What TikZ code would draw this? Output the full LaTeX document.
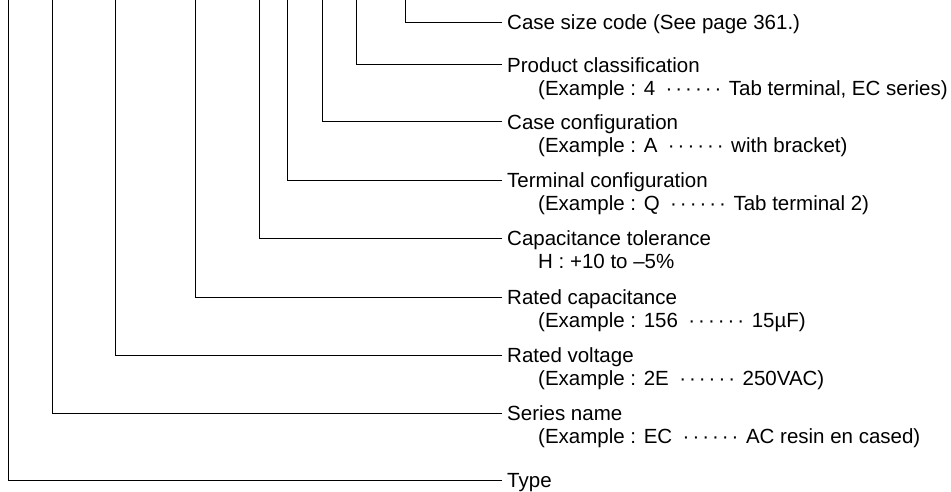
\documentclass[tikz,border=0pt]{standalone}
\usepackage{fontspec}
\setmainfont{Liberation Sans}
\newcommand\dt{\makebox[9.8pt]{·}}
\newcommand\exdots{\kern 9pt\dt\dt\dt\dt\dt\dt\kern 6pt}
\begin{document}
\begin{tikzpicture}[x=1pt,y=-1pt,
  conn/.style={draw=black,line width=0.9pt},
  head/.style={anchor=west,inner xsep=5pt,inner ysep=0pt,text height=14.7pt,text depth=0pt,font=\fontsize{20.5}{23.6}\selectfont},
  expl/.style={anchor=base west,inner sep=0pt,font=\fontsize{20.5}{23.6}\selectfont}]
\useasboundingbox (0,0) rectangle (951,491);
% headings
\node[head] (cs) at (502,22) {Case size code (See page 361.)};
\node[head] (pc) at (502,64.7) {Product classification};
\node[head] (cc) at (502,121.7) {Case configuration};
\node[head] (tc) at (502,180) {Terminal configuration};
\node[head] (ct) at (502,238) {Capacitance tolerance};
\node[head] (rc) at (502,297) {Rated capacitance};
\node[head] (rv) at (502,355) {Rated voltage};
\node[head] (sn) at (502,413) {Series name};
\node[head] (ty) at (502,480) {Type};
% examples
\node[expl] (pcx) at (538,95.6) {(Example : 4\exdots Tab terminal, EC series)};
\node[expl] (ccx) at (538,152.6) {(Example : A\exdots with bracket)};
\node[expl] (tcx) at (538,210.9) {(Example : Q\exdots Tab terminal 2)};
\node[expl] (ctx) at (538,268.9) {H : +10 to –5\%};
\node[expl] (rcx) at (538,327.9) {(Example : 156\exdots 15µF)};
\node[expl] (rvx) at (538,385.9) {(Example : 2E\exdots 250VAC)};
\node[expl] (snx) at (538,443.9) {(Example : EC\exdots AC resin en cased)};
% top coordinates
\coordinate (tcs) at (405.7,0);
\coordinate (tpc) at (356.3,0);
\coordinate (tcc) at (322,0);
\coordinate (ttc) at (287,0);
\coordinate (tct) at (259,0);
\coordinate (trc) at (195.3,0);
\coordinate (trv) at (115,0);
\coordinate (tsn) at (52.3,0);
\coordinate (tty) at (8,0);
% connectors
\draw[conn] (tcs) |- (cs.west);
\draw[conn] (tpc) |- (pc.west);
\draw[conn] (tcc) |- (cc.west);
\draw[conn] (ttc) |- (tc.west);
\draw[conn] (tct) |- (ct.west);
\draw[conn] (trc) |- (rc.west);
\draw[conn] (trv) |- (rv.west);
\draw[conn] (tsn) |- (sn.west);
\draw[conn] (tty) |- (ty.west);
\end{tikzpicture}
\end{document}
